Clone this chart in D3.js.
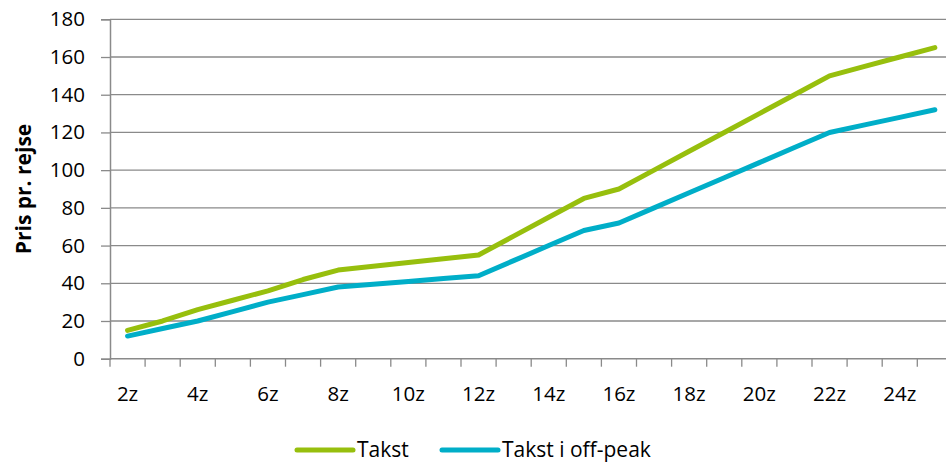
<!DOCTYPE html>
<html>
<head>
<meta charset="utf-8">
<script src="https://cdn.jsdelivr.net/npm/d3@7"></script>
<style>
  html, body { margin: 0; padding: 0; background: #fff; }
  svg { display: block; }
  text { font-family: "Open Sans", "Noto Sans", sans-serif; fill: #000; }
</style>
</head>
<body>
<svg id="chart" width="946" height="464"></svg>
<script>
const categories = ["2z","3z","4z","5z","6z","7z","8z","9z","10z","11z","12z","13z","14z","15z","16z","17z","18z","19z","20z","21z","22z","23z","24z","25z"];
const takst   = [15,20,26,31,36,42,47,49,51,53,55,65,75,85,90,100,110,120,130,140,150,155,160,165];
const offpeak = [12,16,20,25,30,34,38,39.5,41,42.5,44,52,60,68,72,80,88,96,104,112,120,124,128,132];
const yTicks = [0,20,40,60,80,100,120,140,160,180];
const xLabels = ["2z","4z","6z","8z","10z","12z","14z","16z","18z","20z","22z","24z"];
const seriesNames = ["Takst","Takst i off-peak"];
const seriesColors = ["#97BF0D","#00AEC8"];
const yTitle = "Pris pr. rejse";

(function () {
const svg = d3.select("#chart");
const pLeft = 110, pRight = 952.4, pTop = 19.3, pBottom = 358.7;

const x = d3.scaleBand().domain(categories).range([pLeft, pRight]).paddingInner(0).paddingOuter(0);
const y = d3.scaleLinear().domain([0, 180]).range([pBottom, pTop]);
const cx = c => x(c) + x.bandwidth() / 2;

const gridColor = "#8a8a8a";

// gridlines
svg.append("g").selectAll("line").data(yTicks.filter(d => d > 0)).join("line")
  .attr("x1", pLeft).attr("x2", pRight)
  .attr("y1", d => y(d)).attr("y2", d => y(d))
  .attr("stroke", gridColor).attr("stroke-width", 1.3);

// y axis
const yAxis = d3.axisLeft(y).tickValues(yTicks).tickSize(9).tickPadding(16).tickFormat(d3.format("d"));
const gy = svg.append("g").attr("transform", `translate(${pLeft},0)`).call(yAxis);
gy.attr("font-size", null).attr("font-family", null);
gy.select(".domain").attr("stroke", gridColor).attr("stroke-width", 1.5);
gy.selectAll(".tick line").attr("stroke", gridColor).attr("stroke-width", 1.3);
gy.selectAll(".tick text").style("font-size", "20.5px").style("font-family", "'Open Sans'").attr("fill", "#000");

// x axis baseline
svg.append("line").attr("x1", pLeft).attr("x2", pRight).attr("y1", pBottom).attr("y2", pBottom)
  .attr("stroke", gridColor).attr("stroke-width", 1.5);
// x ticks at band boundaries
const bounds = categories.map(c => x(c)).concat([pRight]);
svg.append("g").selectAll("line").data(bounds).join("line")
  .attr("x1", d => d).attr("x2", d => d)
  .attr("y1", pBottom).attr("y2", pBottom + 8)
  .attr("stroke", gridColor).attr("stroke-width", 1.3);
// x labels
svg.append("g").selectAll("text").data(xLabels).join("text")
  .attr("x", d => cx(d)).attr("y", 401)
  .attr("text-anchor", "middle").style("font-size", "20.5px")
  .text(d => d);

// y title
svg.append("text")
  .attr("transform", `translate(31,${(pTop + pBottom) / 2}) rotate(-90)`)
  .attr("text-anchor", "middle").style("font-size", "21px").attr("font-weight", "bold")
  .text(yTitle);

// lines
const line = d3.line().x((d, i) => cx(categories[i])).y(d => y(d));
[takst, offpeak].forEach((s, i) => {
  svg.append("path").datum(s).attr("d", line)
    .attr("fill", "none").attr("stroke", seriesColors[i]).attr("stroke-width", 5)
    .attr("stroke-linecap", "round").attr("stroke-linejoin", "round");
});

// legend
const legendItems = [
  { name: seriesNames[0], color: seriesColors[0], x0: 297, x1: 353, tx: 357 },
  { name: seriesNames[1], color: seriesColors[1], x0: 442, x1: 498, tx: 502 }
];
const lg = svg.append("g");
legendItems.forEach(it => {
  lg.append("line").attr("x1", it.x0).attr("x2", it.x1).attr("y1", 450).attr("y2", 450)
    .attr("stroke", it.color).attr("stroke-width", 5).attr("stroke-linecap", "round");
  lg.append("text").attr("x", it.tx).attr("y", 457).style("font-size", "21px").text(it.name);
});
})();
</script>
</body>
</html>
